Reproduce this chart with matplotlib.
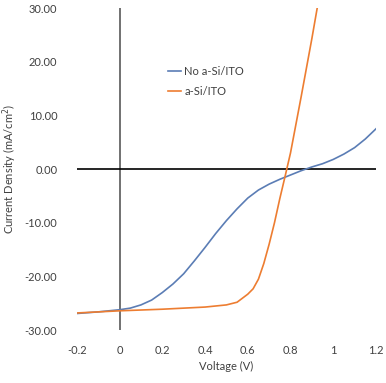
import matplotlib
matplotlib.use("Agg")
import matplotlib.pyplot as plt

# J-V curves
v_no = [-0.2, -0.1, 0.0, 0.05, 0.1, 0.15, 0.2, 0.25, 0.3, 0.35, 0.4, 0.45, 0.5, 0.55,
        0.6, 0.65, 0.7, 0.75, 0.8, 0.85, 0.9, 0.95, 1.0, 1.05, 1.1, 1.15, 1.2]
j_no = [-26.9, -26.6, -26.2, -25.9, -25.3, -24.4, -23.0, -21.4, -19.5, -17.1, -14.6,
        -12.0, -9.6, -7.4, -5.4, -3.9, -2.8, -1.9, -1.1, -0.3, 0.4, 1.0, 1.8, 2.8,
        4.0, 5.6, 7.5]
v_ito = [-0.2, 0.0, 0.2, 0.4, 0.5, 0.55, 0.6, 0.625, 0.65, 0.675, 0.7, 0.725, 0.75,
         0.775, 0.8, 0.85, 0.9, 0.925]
j_ito = [-26.8, -26.4, -26.1, -25.7, -25.3, -24.8, -23.3, -22.3, -20.5, -17.6, -14.0,
         -10.0, -5.5, -1.3, 3.0, 13.5, 24.3, 30.0]
yticks = [-30, -20, -10, 0, 10, 20, 30]
xticks = [-0.2, 0, 0.2, 0.4, 0.6, 0.8, 1, 1.2]
xlabels = ["-0.2", "0", "0.2", "0.4", "0.6", "0.8", "1", "1.2"]

plt.rcParams["font.family"] = ["Lato", "DejaVu Sans"]
fig = plt.figure(figsize=(3.86, 3.83), dpi=100)
ax = fig.add_axes([0.199, 0.138, 0.775, 0.841])

ax.axvline(0, color="#595959", lw=1.2, zorder=1)
ax.axhline(0, color="black", lw=1.2, zorder=1)
ax.plot(v_no, j_no, color="#5B7DB5", lw=1.2, label="No a-Si/ITO", zorder=2)
ax.plot(v_ito, j_ito, color="#ED7D31", lw=1.2, label="a-Si/ITO", zorder=3)

ax.set_xlim(-0.2, 1.2)
ax.set_ylim(-30, 30)
ax.set_xticks(xticks, xlabels)
ax.set_yticks(yticks, [f"{t:.2f}" for t in yticks])
ax.tick_params(length=0, labelsize=8, colors="#404040")
ax.tick_params(axis="x", pad=11)
ax.tick_params(axis="y", pad=14)
for s in ax.spines.values():
    s.set_visible(False)
ax.set_xlabel("Voltage (V)", fontsize=8, color="#404040", labelpad=3)
ax.set_ylabel("Current Density (mA/cm$^2$)", fontsize=8, color="#404040", labelpad=4)
ax.legend(loc="upper left", bbox_to_anchor=(0.27, 0.85), frameon=False, fontsize=8,
          handlelength=1.2, handletextpad=0.3, labelspacing=0.8, labelcolor="#404040")

fig.savefig("out.png", dpi=100)
